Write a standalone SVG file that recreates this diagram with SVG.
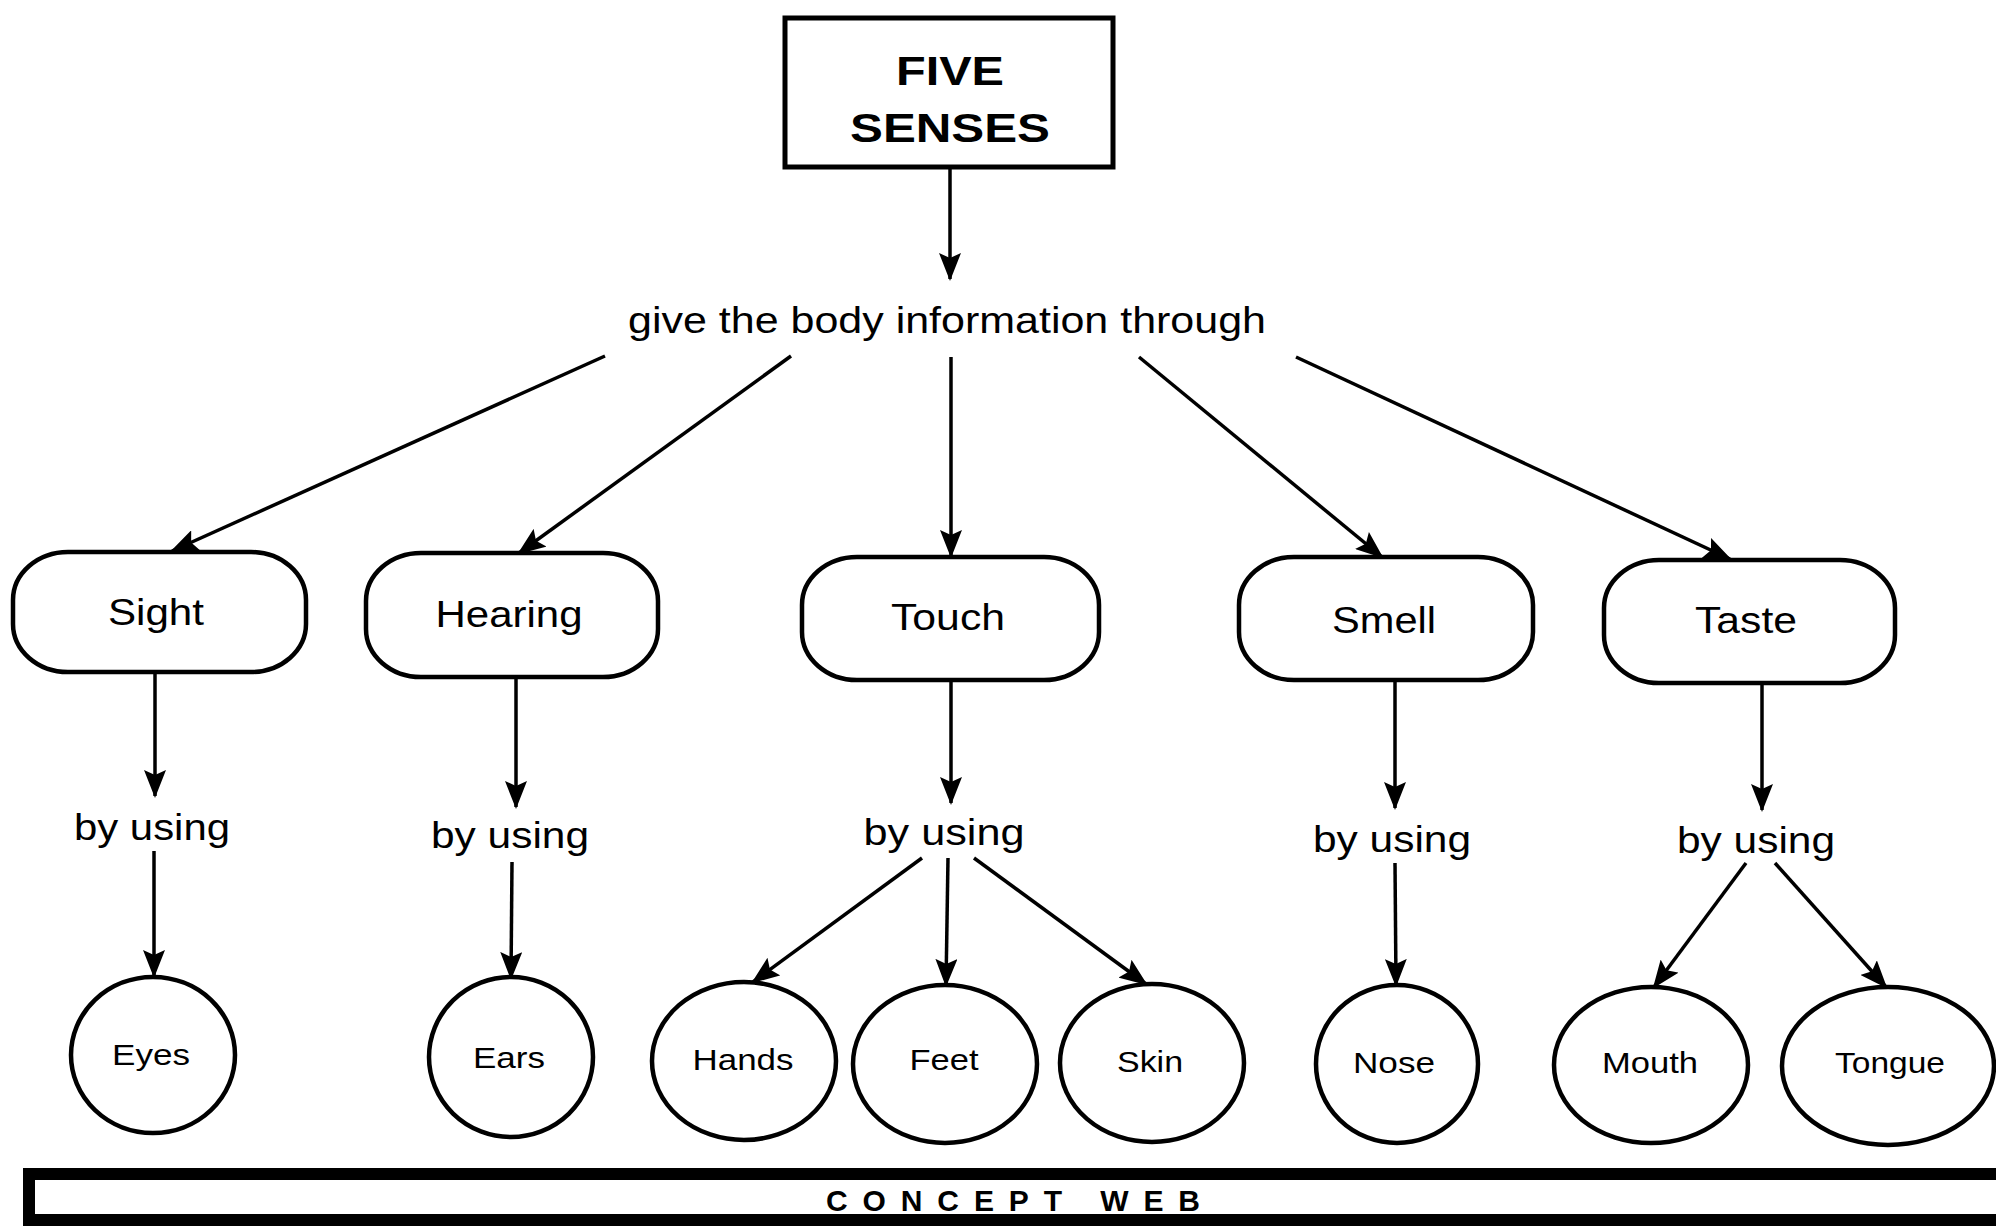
<svg xmlns="http://www.w3.org/2000/svg" width="1996" height="1230" viewBox="0 0 1996 1230">
  <style>
    .box { fill: #fff; stroke: #000; stroke-width: 5; }
    .sense { fill: #fff; stroke: #000; stroke-width: 4.5; }
    .organ { fill: #fff; stroke: #000; stroke-width: 4.5; }
    .edge { stroke: #000; stroke-width: 3.5; fill: none; marker-end: url(#arrow); }
    .title { font-family: "Liberation Sans", Arial, sans-serif; font-weight: bold; font-size: 40px; fill: #000; }
    .lbl { font-family: "Liberation Sans", Arial, sans-serif; font-size: 37px; fill: #000; }
    .link { font-family: "Liberation Sans", Arial, sans-serif; font-size: 36px; fill: #000; }
    .org { font-family: "Liberation Sans", Arial, sans-serif; font-size: 30px; fill: #000; }
    .foot { font-family: "Liberation Sans", Arial, sans-serif; font-size: 30px; font-weight: bold; fill: #000; }
  </style>
  <defs>
    <marker id="arrow" markerUnits="userSpaceOnUse" markerWidth="28" markerHeight="22" refX="26" refY="11" orient="auto">
      <path d="M0,0 L28,11 L0,22 L5,11 z" fill="#000"/>
    </marker>
  </defs>
  <rect width="1996" height="1230" fill="#fff"/>

  <g id="connectors">
    <line class="edge" x1="950" y1="169" x2="950" y2="279"/>
    <line class="edge" x1="605" y1="356" x2="172" y2="551"/>
    <line class="edge" x1="791" y1="356" x2="519" y2="553"/>
    <line class="edge" x1="951" y1="357" x2="951" y2="556"/>
    <line class="edge" x1="1139" y1="357" x2="1382" y2="557"/>
    <line class="edge" x1="1296" y1="357" x2="1730" y2="559"/>
    <line class="edge" x1="155" y1="672" x2="155" y2="796"/>
    <line class="edge" x1="516" y1="677" x2="516" y2="807"/>
    <line class="edge" x1="951" y1="680" x2="951" y2="803"/>
    <line class="edge" x1="1395" y1="680" x2="1395" y2="808"/>
    <line class="edge" x1="1762" y1="683" x2="1762" y2="810"/>
    <line class="edge" x1="154" y1="851" x2="154" y2="976"/>
    <line class="edge" x1="512" y1="862" x2="511" y2="978"/>
    <line class="edge" x1="922" y1="858" x2="753" y2="982"/>
    <line class="edge" x1="948" y1="858" x2="946" y2="985"/>
    <line class="edge" x1="974" y1="858" x2="1146" y2="984"/>
    <line class="edge" x1="1395" y1="863" x2="1396" y2="985"/>
    <line class="edge" x1="1746" y1="863" x2="1654" y2="987"/>
    <line class="edge" x1="1775" y1="863" x2="1886" y2="987"/>
  </g>

  <g id="five-senses">
    <rect class="box" x="785" y="18" width="328" height="149"/>
    <text class="title" x="950" y="85" text-anchor="middle" textLength="108" lengthAdjust="spacingAndGlyphs">FIVE</text>
    <text class="title" x="950" y="142" text-anchor="middle" textLength="200" lengthAdjust="spacingAndGlyphs">SENSES</text>
  </g>

  <g id="relation">
    <text class="lbl" x="947" y="333" text-anchor="middle" textLength="638" lengthAdjust="spacingAndGlyphs">give the body information through</text>
  </g>

  <g id="sight">
    <rect class="sense" x="13" y="552" width="293" height="120" rx="55" ry="48"/>
    <text class="lbl" x="156" y="625" text-anchor="middle" textLength="96" lengthAdjust="spacingAndGlyphs">Sight</text>
  </g>
  <g id="hearing">
    <rect class="sense" x="366" y="553" width="292" height="124" rx="55" ry="48"/>
    <text class="lbl" x="509" y="627" text-anchor="middle" textLength="147" lengthAdjust="spacingAndGlyphs">Hearing</text>
  </g>
  <g id="touch">
    <rect class="sense" x="802" y="557" width="297" height="123" rx="55" ry="48"/>
    <text class="lbl" x="948" y="630" text-anchor="middle" textLength="114" lengthAdjust="spacingAndGlyphs">Touch</text>
  </g>
  <g id="smell">
    <rect class="sense" x="1239" y="557" width="294" height="123" rx="55" ry="48"/>
    <text class="lbl" x="1384" y="633" text-anchor="middle" textLength="104" lengthAdjust="spacingAndGlyphs">Smell</text>
  </g>
  <g id="taste">
    <rect class="sense" x="1604" y="560" width="291" height="123" rx="55" ry="48"/>
    <text class="lbl" x="1746" y="633" text-anchor="middle" textLength="102" lengthAdjust="spacingAndGlyphs">Taste</text>
  </g>

  <g id="by-using-sight"><text class="link" x="152" y="840" text-anchor="middle" textLength="156" lengthAdjust="spacingAndGlyphs">by using</text></g>
  <g id="by-using-hearing"><text class="link" x="510" y="848" text-anchor="middle" textLength="158" lengthAdjust="spacingAndGlyphs">by using</text></g>
  <g id="by-using-touch"><text class="link" x="944" y="845" text-anchor="middle" textLength="161" lengthAdjust="spacingAndGlyphs">by using</text></g>
  <g id="by-using-smell"><text class="link" x="1392" y="852" text-anchor="middle" textLength="158" lengthAdjust="spacingAndGlyphs">by using</text></g>
  <g id="by-using-taste"><text class="link" x="1756" y="853" text-anchor="middle" textLength="158" lengthAdjust="spacingAndGlyphs">by using</text></g>

  <g id="eyes">
    <ellipse class="organ" cx="153" cy="1055" rx="82" ry="78"/>
    <text class="org" x="151" y="1065" text-anchor="middle" textLength="78" lengthAdjust="spacingAndGlyphs">Eyes</text>
  </g>
  <g id="ears">
    <ellipse class="organ" cx="511" cy="1057" rx="82" ry="80"/>
    <text class="org" x="509" y="1068" text-anchor="middle" textLength="72" lengthAdjust="spacingAndGlyphs">Ears</text>
  </g>
  <g id="hands">
    <ellipse class="organ" cx="744" cy="1061" rx="92" ry="79"/>
    <text class="org" x="743" y="1070" text-anchor="middle" textLength="101" lengthAdjust="spacingAndGlyphs">Hands</text>
  </g>
  <g id="feet">
    <ellipse class="organ" cx="945" cy="1064" rx="92" ry="79"/>
    <text class="org" x="944" y="1070" text-anchor="middle" textLength="69" lengthAdjust="spacingAndGlyphs">Feet</text>
  </g>
  <g id="skin">
    <ellipse class="organ" cx="1152" cy="1063" rx="92" ry="79"/>
    <text class="org" x="1150" y="1072" text-anchor="middle" textLength="66" lengthAdjust="spacingAndGlyphs">Skin</text>
  </g>
  <g id="nose">
    <ellipse class="organ" cx="1397" cy="1064" rx="81" ry="79"/>
    <text class="org" x="1394" y="1073" text-anchor="middle" textLength="82" lengthAdjust="spacingAndGlyphs">Nose</text>
  </g>
  <g id="mouth">
    <ellipse class="organ" cx="1651" cy="1065" rx="97" ry="78"/>
    <text class="org" x="1650" y="1073" text-anchor="middle" textLength="96" lengthAdjust="spacingAndGlyphs">Mouth</text>
  </g>
  <g id="tongue">
    <ellipse class="organ" cx="1888" cy="1066" rx="106" ry="79"/>
    <text class="org" x="1890" y="1073" text-anchor="middle" textLength="110" lengthAdjust="spacingAndGlyphs">Tongue</text>
  </g>

  <g id="concept-web">
    <rect x="29" y="1174" width="1990" height="46" fill="#fff" stroke="#000" stroke-width="12"/>
    <text class="foot" x="1013" y="1211" text-anchor="middle" textLength="374" lengthAdjust="spacing">CONCEPT WEB</text>
  </g>
</svg>
